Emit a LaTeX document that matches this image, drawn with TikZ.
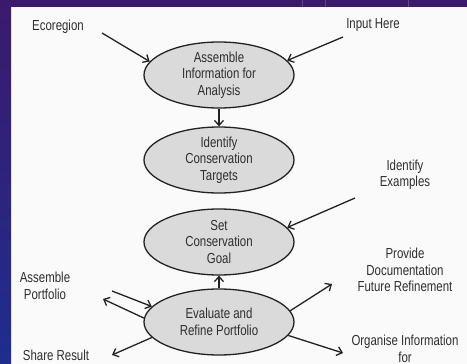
\documentclass[tikz,border=0pt]{standalone}
\usepackage{fontspec}
\setmainfont{Liberation Sans}[FakeStretch=0.79]
\usetikzlibrary{shapes.geometric,arrows.meta}

\definecolor{bandtop}{HTML}{3B1A6C}
\definecolor{bandbot}{HTML}{1F2D8F}
\definecolor{paper}{HTML}{FAFAFA}
\definecolor{stepfill}{HTML}{DADADA}
\definecolor{ink}{HTML}{222222}
\definecolor{txt}{HTML}{2E2E2E}

\tikzset{
  stepnode/.style={ellipse, draw=ink, line width=1.3pt, fill=stepfill,
    minimum width=150pt, minimum height=66pt, inner sep=0pt, align=center,
    text=txt, font=\fontsize{14.5}{16.5}\selectfont},
  label/.style={align=center, text=txt, inner sep=1pt,
    font=\fontsize{14.5}{16.5}\selectfont},
  flow/.style={draw=ink, line width=1.3pt,
    -{Straight Barb[length=5pt,width=9pt,line width=1.3pt]}}
}

\begin{document}
\begin{tikzpicture}[x=1pt,y=-1pt]
  % slide frame and page
  \useasboundingbox (0,0) rectangle (467,364);
  \fill[paper] (0,0) rectangle (467,364);
  \shade[top color=bandtop, bottom color=bandbot] (0,0) rectangle (11,364);
  \fill[bandtop] (0,0) rectangle (467,7);
  \foreach \xx in {302,325,408} \draw[white!20!bandtop, line width=0.6pt] (\xx,0) -- (\xx,7);

  % process steps
  \node[stepnode] (e1) at (219,75)  {Assemble\\Information for\\Analysis};
  \node[stepnode] (e2) at (219,160) {Identify\\Conservation\\Targets};
  \node[stepnode] (e3) at (219,242) {Set\\Conservation\\Goal};
  \node[stepnode] (e4) at (219,322) {Evaluate and\\Refine Portfolio};

  % side labels
  \node[label] (eco)  at (58,27)   {Ecoregion};
  \node[label] (inp)  at (373,25)  {Input Here};
  \node[label] (ex)   at (405,175) {Identify\\Examples};
  \node[label] (doc)  at (405,270) {Provide\\Documentation\\Future Refinement};
  \node[label] (port) at (45,286)  {Assemble\\Portfolio};
  \node[label] (share) at (56,355) {Share Result};
  \node[label] (org)  at (405,349) {Organise Information\\for};

  % free arrow ends
  \coordinate (ecoS)   at (102,33);
  \coordinate (inpS)   at (343,37);
  \coordinate (exS)    at (355,198);
  \coordinate (portS)  at (112,291);
  \coordinate (portT)  at (103,299);
  \coordinate (shareT) at (112,355);
  \coordinate (docT)   at (332,284);
  \coordinate (orgT)   at (343,353);

  % connectors
  \draw[flow] (ecoS) -- (e1.169);
  \draw[flow] (inpS) -- (e1.12);
  \draw[flow] (e1.south) -- (e2.north);
  \draw[flow] (exS) -- (e3.12);
  \draw[flow] (e4.north) -- (e3.south);
  \draw[flow] (portS) -- (e4.167);
  \draw[flow] (e4.177) -- (portT);
  \draw[flow] (e4.193) -- (shareT);
  \draw[flow] (e4.9) -- (docT);
  \draw[flow] (e4.349) -- (orgT);
\end{tikzpicture}
\end{document}
